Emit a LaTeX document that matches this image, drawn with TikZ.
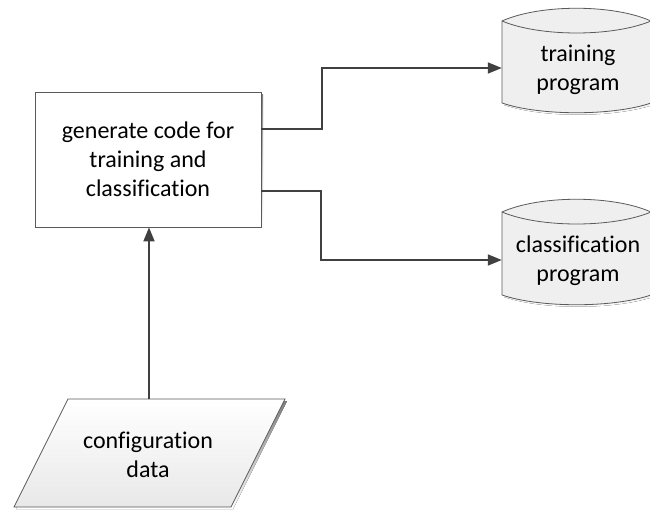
\documentclass[tikz,border=0pt]{standalone}
\usepackage{fontspec}
\setmainfont{Carlito}[Ligatures=NoCommon]
\usetikzlibrary{arrows.meta,calc}
\definecolor{edge}{HTML}{404040}
\definecolor{outline}{HTML}{5A5A5A}
\definecolor{store}{HTML}{EFEFEF}
\definecolor{shade}{HTML}{E6E6E6}
\tikzset{
  x=1pt, y=-1pt,
  every node/.style={font=\fontsize{24}{29}\selectfont, align=center, inner sep=0pt},
  flow/.style={draw=edge, line width=1.8pt, -{Triangle[length=14pt,width=11pt]}},
  procbox/.style={draw=outline, line width=0.8pt, fill=white, minimum width=226pt, minimum height=135pt},
  storebody/.style={minimum width=148pt, minimum height=81pt},
  drumline/.style={draw=outline, line width=0.8pt},
}
% drum-shaped store: left edge at #1, top corners at #2, bottom corners at #3
\newcommand{\drum}[3]{%
  \fill[shade] ($(#1+2,#2+2)$) .. controls ($(#1+40,#2-15)$) and ($(#1+111,#2-15)$) .. ($(#1+151,#2+2)$)
    -- ($(#1+151,#3+2)$) .. controls ($(#1+111,#3+15)$) and ($(#1+40,#3+15)$) .. ($(#1+2,#3+2)$) -- cycle;
  \path[fill=store, drumline] (#1,#2) .. controls ($(#1+38,#2-17)$) and ($(#1+111,#2-17)$) .. ($(#1+149,#2)$)
    -- ($(#1+149,#3)$) .. controls ($(#1+111,#3+13)$) and ($(#1+38,#3+13)$) .. (#1,#3) -- cycle;
  \draw[drumline] (#1,#2) .. controls ($(#1+38,#2+16)$) and ($(#1+111,#2+16)$) .. ($(#1+149,#2)$);
}
\begin{document}
\begin{tikzpicture}
\useasboundingbox (0,0) rectangle (650,510);

% processing step
\fill[shade] (37,95) rectangle (263,230);
\node[procbox] (gen) at (148,159.5) {generate code for\\training and\\classification};

% stored programs
\drum{502}{21}{103}
\node[storebody] (train) at (576,62.5) {};
\node at (578,70) {training\\program};

\drum{502}{212}{295}
\node[storebody] (classify) at (576,253.5) {};
\node at (578,260.5) {classification\\program};

% input data
\fill[shade] (70,401) -- (287,401) -- (233,509) -- (16,509) -- cycle;
\path[draw=outline, line width=0.8pt, top color=white, bottom color=black!9]
  (68,399) -- (285,399) -- (231,507) -- (14,507) -- cycle;
\node (conf) at (149.5,453) {};
\coordinate (conftop) at (149,399);
\node at (148,455) {configuration\\data};

% connectors
\draw[flow] (conftop) -- (gen.south -| conftop);
\draw[flow] ([yshift=30.5pt]gen.east) -| (322,68) -- ([yshift=-5.5pt]train.west);
\draw[flow] ([yshift=-31.5pt]gen.east) -| (321,260) -- ([yshift=-6.5pt]classify.west);
\end{tikzpicture}
\end{document}
